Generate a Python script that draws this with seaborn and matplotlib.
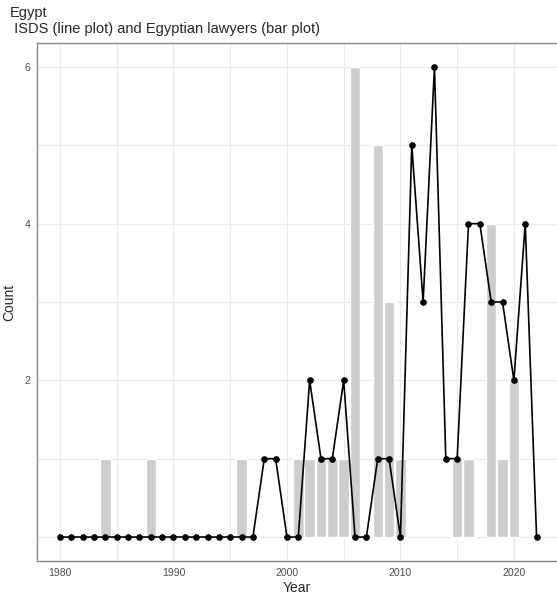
import numpy as np
import pandas as pd
import matplotlib
matplotlib.use('Agg')
import matplotlib.pyplot as plt
from matplotlib.ticker import MultipleLocator, FixedLocator
import seaborn as sns

# ISDS cases per year (line)
years = list(range(1980, 2023))
isds = [0, 0, 0, 0, 0, 0, 0, 0, 0, 0,
        0, 0, 0, 0, 0, 0, 0, 0, 1, 1,
        0, 0, 2, 1, 1, 2, 0, 0, 1, 1,
        0, 5, 3, 6, 1, 1, 4, 4, 3, 3,
        2, 4, 0]

# Egyptian lawyers per year (bars)
bar_years = [1984, 1988, 1996, 2001, 2002, 2003, 2004, 2005, 2006,
             2008, 2009, 2010, 2015, 2016, 2018, 2019, 2020]
bar_counts = [1, 1, 1, 1, 1, 1, 1, 1, 6, 5, 3, 1, 1, 1, 4, 1, 2]

title = "Egypt\n ISDS (line plot) and Egyptian lawyers (bar plot)"

sns.set_style('white')
plt.rcParams['font.family'] = ['Liberation Sans', 'DejaVu Sans']

fig = plt.figure(figsize=(5.57, 5.94), dpi=100)
ax = fig.add_axes([37 / 557, 33 / 594, 1 - 37 / 557, 518 / 594])

df_line = pd.DataFrame({'Year': years, 'Count': isds})
df_bar = pd.DataFrame({'Year': bar_years, 'Count': bar_counts})

sns.barplot(data=df_bar, x='Year', y='Count', native_scale=True, width=0.92,
            color='#cdcdcd', saturation=1, errorbar=None, ax=ax, zorder=2)
sns.lineplot(data=df_line, x='Year', y='Count', color='black', linewidth=1.2,
             marker='o', markersize=4, markeredgecolor='black', ax=ax, zorder=3)

ax.set_xlim(1977.97, 2023.8)
ax.set_ylim(-0.306, 6.306)

ax.xaxis.set_major_locator(MultipleLocator(10))
ax.xaxis.set_minor_locator(MultipleLocator(5))
ax.yaxis.set_major_locator(FixedLocator([2, 4, 6]))
ax.yaxis.set_minor_locator(FixedLocator([0, 1, 3, 5]))
ax.grid(which='major', color='#ebebeb', linewidth=0.9, zorder=0)
ax.grid(which='minor', color='#ebebeb', linewidth=0.8, zorder=0)
ax.set_axisbelow(True)

ax.tick_params(axis='both', which='major', length=3, width=0.8, color='#333333',
               labelsize=7.5, labelcolor='#4d4d4d', pad=2)
ax.tick_params(axis='both', which='minor', length=0)

for side in ['left', 'top', 'bottom']:
    ax.spines[side].set_color('#888888')
    ax.spines[side].set_linewidth(1.0)
ax.spines['right'].set_visible(False)

ax.set_xlabel('Year', fontsize=10, labelpad=2)
ax.set_ylabel('Count', fontsize=10, labelpad=6)

fig.text(10 / 557, 1 - 6 / 594, title, fontsize=10.5, ha='left', va='top',
         linespacing=1.2)

fig.savefig('out.png', dpi=100)
